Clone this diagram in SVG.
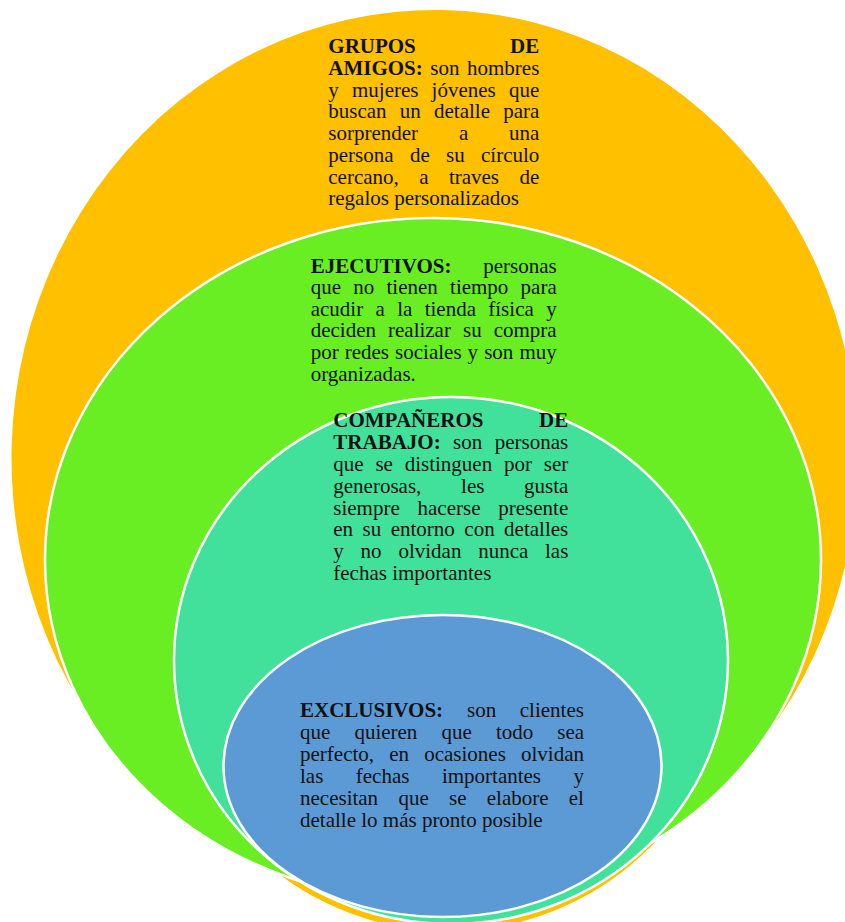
<svg xmlns="http://www.w3.org/2000/svg" width="845" height="922" viewBox="0 0 845 922">
<style>
.t{font-family:"Liberation Serif","Times New Roman",serif;font-size:21px;fill:#111}
.b{font-weight:bold}
.ring{stroke:#fff;stroke-width:2.5}
</style>
<rect width="845" height="922" fill="#fff"/>
<g id="grupos-amigos">
<path d="M 280 875 A 423 448 0 1 1 660 837 A 290 300 0 0 1 280 875 Z" fill="#FFC000"/>
<text class="t"><tspan class="b" x="328.3" y="53.3">GRUPOS</tspan><tspan class="b" x="510.1" y="53.3">DE</tspan></text>
<text class="t"><tspan class="b" x="328.3" y="75">AMIGOS:</tspan><tspan x="430.3" y="75">son</tspan><tspan x="467" y="75">hombres</tspan></text>
<text class="t"><tspan x="328.3" y="96.7">y</tspan><tspan x="352" y="96.7">mujeres</tspan><tspan x="431.6" y="96.7">jóvenes</tspan><tspan x="509" y="96.7">que</tspan></text>
<text class="t"><tspan x="328.3" y="118.4">buscan</tspan><tspan x="399.8" y="118.4">un</tspan><tspan x="434" y="118.4">detalle</tspan><tspan x="503.2" y="118.4">para</tspan></text>
<text class="t"><tspan x="328.3" y="140.1">sorprender</tspan><tspan x="458.9" y="140.1">a</tspan><tspan x="509" y="140.1">una</tspan></text>
<text class="t"><tspan x="328.3" y="161.8">persona</tspan><tspan x="409.9" y="161.8">de</tspan><tspan x="446" y="161.8">su</tspan><tspan x="481" y="161.8">círculo</tspan></text>
<text class="t"><tspan x="328.3" y="183.5">cercano,</tspan><tspan x="419.2" y="183.5">a</tspan><tspan x="448.9" y="183.5">traves</tspan><tspan x="519.5" y="183.5">de</tspan></text>
<text class="t" x="328.3" y="205.2">regalos personalizados</text>
</g>
<g id="ejecutivos">
<ellipse class="ring" cx="433" cy="560" rx="388" ry="342" fill="#69EE24"/>
<text class="t"><tspan class="b" x="310.7" y="272.5">EJECUTIVOS:</tspan><tspan x="483.2" y="272.5">personas</tspan></text>
<text class="t"><tspan x="310.7" y="294.1">que</tspan><tspan x="353.25" y="294.1">no</tspan><tspan x="386.5" y="294.1">tienen</tspan><tspan x="450.05" y="294.1">tiempo</tspan><tspan x="520.6" y="294.1">para</tspan></text>
<text class="t"><tspan x="310.7" y="315.7">acudir</tspan><tspan x="375.5" y="315.7">a</tspan><tspan x="397.2" y="315.7">la</tspan><tspan x="424.7" y="315.7">tienda</tspan><tspan x="488.3" y="315.7">física</tspan><tspan x="546.2" y="315.7">y</tspan></text>
<text class="t"><tspan x="310.7" y="337.3">deciden</tspan><tspan x="388" y="337.3">realizar</tspan><tspan x="463" y="337.3">su</tspan><tspan x="493.7" y="337.3">compra</tspan></text>
<text class="t" x="310.7" y="358.9" word-spacing="0.8">por redes sociales y son muy</text>
<text class="t" x="310.7" y="380.5">organizadas.</text>
</g>
<g id="companeros-trabajo">
<ellipse class="ring" cx="451" cy="660.5" rx="277" ry="263.5" fill="#42E19B"/>
<text class="t"><tspan class="b" x="333.3" y="427.3">COMPAÑEROS</tspan><tspan class="b" x="539.1" y="427.3">DE</tspan></text>
<text class="t"><tspan class="b" x="333.3" y="449.1">TRABAJO:</tspan><tspan x="453.1" y="449.1">son</tspan><tspan x="494.8" y="449.1">personas</tspan></text>
<text class="t"><tspan x="333.3" y="470.9">que</tspan><tspan x="375.4" y="470.9">se</tspan><tspan x="404.7" y="470.9">distinguen</tspan><tspan x="504" y="470.9">por</tspan><tspan x="543.8" y="470.9">ser</tspan></text>
<text class="t"><tspan x="333.3" y="492.7">generosas,</tspan><tspan x="461.05" y="492.7">les</tspan><tspan x="524" y="492.7">gusta</tspan></text>
<text class="t"><tspan x="333.3" y="514.5">siempre</tspan><tspan x="417.55" y="514.5">hacerse</tspan><tspan x="498.3" y="514.5">presente</tspan></text>
<text class="t"><tspan x="333.3" y="536.3">en</tspan><tspan x="362.55" y="536.3">su</tspan><tspan x="390.7" y="536.3">entorno</tspan><tspan x="464.35" y="536.3">con</tspan><tspan x="504.1" y="536.3">detalles</tspan></text>
<text class="t"><tspan x="333.3" y="558.1">y</tspan><tspan x="360.6" y="558.1">no</tspan><tspan x="398.4" y="558.1">olvidan</tspan><tspan x="478.2" y="558.1">nunca</tspan><tspan x="545" y="558.1">las</tspan></text>
<text class="t" x="333.3" y="579.9">fechas importantes</text>
</g>
<g id="exclusivos">
<ellipse class="ring" cx="442.5" cy="766" rx="219" ry="151" fill="#5B9AD5"/>
<text class="t"><tspan class="b" x="300" y="717.3">EXCLUSIVOS:</tspan><tspan x="467.05" y="717.3">son</tspan><tspan x="519.8" y="717.3">clientes</tspan></text>
<text class="t"><tspan x="300" y="739.2">que</tspan><tspan x="354.4" y="739.2">quieren</tspan><tspan x="441.5" y="739.2">que</tspan><tspan x="495.9" y="739.2">todo</tspan><tspan x="557.3" y="739.2">sea</tspan></text>
<text class="t"><tspan x="300" y="761.1">perfecto,</tspan><tspan x="389.2" y="761.1">en</tspan><tspan x="424.2" y="761.1">ocasiones</tspan><tspan x="521" y="761.1">olvidan</tspan></text>
<text class="t"><tspan x="300" y="783">las</tspan><tspan x="355.8" y="783">fechas</tspan><tspan x="441.9" y="783">importantes</tspan><tspan x="573.5" y="783">y</tspan></text>
<text class="t"><tspan x="300" y="804.9">necesitan</tspan><tspan x="398.4" y="804.9">que</tspan><tspan x="449" y="804.9">se</tspan><tspan x="486.8" y="804.9">elabore</tspan><tspan x="568.8" y="804.9">el</tspan></text>
<text class="t" x="300" y="826.8">detalle lo más pronto posible</text>
</g>
<g id="connectors"/>
</svg>
